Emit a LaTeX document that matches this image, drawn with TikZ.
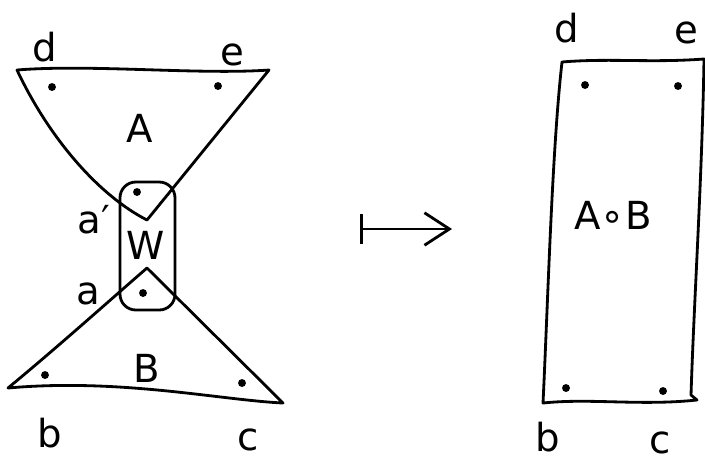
\documentclass[tikz,border=0pt]{standalone}
\usepackage{fontspec}
\setmainfont{DejaVu Sans}
\usetikzlibrary{arrows.meta}
\definecolor{ink}{HTML}{000000}
\tikzset{
  pen/.style={draw=ink,line width=1.6pt,line join=round,line cap=round},
  spot/.style={circle,fill=ink,inner sep=0pt,minimum size=4.5pt},
  lbl/.style={font=\fontsize{22}{26}\selectfont,text=ink,inner sep=0pt},
}
\begin{document}
\begin{tikzpicture}[x=0.02cm,y=-0.02cm]
  \useasboundingbox (0,0) rectangle (705,461);
  % left: A and B glued along w
  \draw[pen] (17,70) .. controls (90,64) and (200,75) .. (269,70) -- (147,220) .. controls (100,196) and (50,140) .. cycle;
  \draw[pen,rounded corners=9pt] (120,182) rectangle (175,310);
  \draw[pen] (147,268) -- (283,403) .. controls (220,400) and (120,378) .. (8,388) .. controls (60,345) and (110,300) .. cycle;
  \node[spot] (dA1) at (52,87) {};
  \node[spot] (dA2) at (218,86) {};
  \node[spot] (dW1) at (137,192) {};
  \node[spot] (dW2) at (143,293) {};
  \node[spot] (dB1) at (45,375) {};
  \node[spot] (dB2) at (242,383) {};
  \node[lbl] (ld1) at (45,47) {d};
  \node[lbl] (le1) at (232,55) {e};
  \node[lbl] (lA) at (140,128) {A};
  \node[lbl] (lap) at (94,220) {a′};
  \node[lbl] (lW) at (146,245) {W};
  \node[lbl] (la) at (88,294) {a};
  \node[lbl] (lB) at (147,368) {B};
  \node[lbl] (lb1) at (50,433) {b};
  \node[lbl] (lc1) at (248,440) {c};
  % maps to
  \coordinate (mapL) at (360,229);
  \coordinate (mapR) at (452,229);
  \draw[pen,{Bar[width=6mm]}-{Straight Barb[length=5mm,width=6.5mm]}] (mapL) -- (mapR);
  % right: the composite
  \draw[pen] (562,62) .. controls (610,58) and (650,63) .. (704,59) .. controls (702,180) and (694,300) .. (691,395) -- (697,400) .. controls (640,406) and (590,398) .. (543,403) .. controls (548,300) and (552,150) .. cycle;
  \node[spot] (dR1) at (585,85) {};
  \node[spot] (dR2) at (678,86) {};
  \node[spot] (dR3) at (566,388) {};
  \node[spot] (dR4) at (663,391) {};
  \node[lbl] (ld2) at (567,28) {d};
  \node[lbl] (le2) at (686,33) {e};
  \node[lbl] (lAB) at (613,215) {A∘B};
  \node[lbl] (lb2) at (548,437) {b};
  \node[lbl] (lc2) at (660,443) {c};
\end{tikzpicture}
\end{document}
